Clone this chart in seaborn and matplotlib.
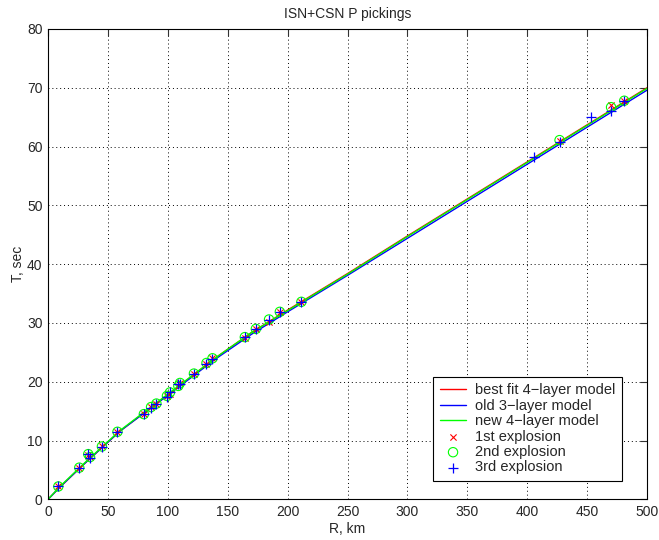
import matplotlib
matplotlib.use("Agg")
import matplotlib.pyplot as plt
import seaborn as sns
import pandas as pd

# ---- model travel-time curves ----
R_model = [0, 10, 30, 60, 100, 140, 170, 200, 250, 300, 350, 400, 450, 500]
T_best = [0, 2.1, 6.0, 11.6, 17.8, 24.1, 28.4, 32.2, 38.4, 44.8, 51.1, 57.4, 63.7, 70.0]
T_old = [0, 2.1, 6.0, 11.6, 17.7, 23.9, 28.1, 31.9, 38.1, 44.4, 50.7, 57.0, 63.3, 69.6]
T_new = [0, 2.2, 6.1, 11.7, 17.9, 24.1, 28.4, 32.1, 38.3, 44.7, 51.0, 57.3, 63.6, 69.9]

# ---- picks ----
R_exp1 = [8.6, 26.1, 33.6, 35.1, 45.0, 58.0, 80.0, 86.0, 90.5, 99.3, 101.8, 108.8, 110.2, 121.8, 132.3, 137.3,
          164.3, 173.5, 184.5, 193.5, 211.5, 427.0, 470.0, 481.0]
T_exp1 = [2.2, 5.4, 7.6, 7.2, 9.0, 11.5, 14.5, 15.7, 16.2, 17.6, 18.0, 19.3, 19.8, 21.4, 23.1, 24.0,
          27.5, 28.9, 30.2, 31.8, 33.5, 60.9, 67.0, 67.8]
R_exp2 = [8.6, 26.1, 33.6, 35.1, 45.0, 58.0, 80.0, 86.0, 90.5, 99.3, 101.8, 108.8, 110.2, 121.8, 132.3, 137.3,
          164.3, 173.5, 184.5, 193.5, 211.5, 427.0, 470.0, 481.0]
T_exp2 = [2.2, 5.4, 7.7, 7.2, 9.0, 11.5, 14.5, 15.7, 16.3, 17.6, 18.2, 19.3, 19.8, 21.4, 23.2, 24.0,
          27.6, 29.0, 30.6, 31.9, 33.6, 61.1, 66.7, 67.8]
R_exp3 = [8.6, 26.1, 33.6, 35.1, 45.0, 58.0, 80.0, 86.0, 90.5, 99.3, 101.8, 108.8, 110.2, 121.8, 132.3, 137.3,
          164.3, 173.5, 184.5, 193.5, 211.5, 405.5, 427.0, 453.0, 470.0, 481.0]
T_exp3 = [2.2, 5.3, 7.7, 7.1, 8.9, 11.4, 14.5, 15.6, 16.2, 17.5, 18.3, 19.6, 19.7, 21.3, 23.1, 23.9,
          27.6, 28.9, 30.5, 31.9, 33.5, 58.2, 60.8, 65.1, 66.0, 67.8]

sns.set_style("white")
plt.rcParams['font.family'] = ['Liberation Sans', 'DejaVu Sans']
plt.rcParams['font.size'] = 10

fig = plt.figure(figsize=(6.59, 5.40), dpi=100)
ax = fig.add_axes([48 / 659, 1 - 499.4 / 540, (647 - 48) / 659, (499.4 - 29) / 540])

df_models = pd.DataFrame({"R": R_model, "best": T_best, "old": T_old, "new": T_new})
sns.lineplot(data=df_models, x="R", y="best", ax=ax, color=(1, 0, 0), lw=1.0,
             label="best fit 4\u2212layer model", sort=False)
sns.lineplot(data=df_models, x="R", y="old", ax=ax, color=(0, 0, 1), lw=1.0,
             label="old 3\u2212layer model", sort=False)
sns.lineplot(data=df_models, x="R", y="new", ax=ax, color=(0, 1, 0), lw=1.0,
             label="new 4\u2212layer model", sort=False)

sns.scatterplot(x=R_exp1, y=T_exp1, ax=ax, marker="x", color=(1, 0, 0), s=20, linewidth=0.8,
                label="1st explosion", zorder=4)
sns.scatterplot(x=R_exp2, y=T_exp2, ax=ax, marker="o", facecolor="none", edgecolor=(0, 1, 0),
                s=45, linewidth=0.8, label="2nd explosion", zorder=5)
sns.scatterplot(x=R_exp3, y=T_exp3, ax=ax, marker="+", color=(0, 0, 1), s=55, linewidth=0.9,
                label="3rd explosion", zorder=6)

ax.set_xlim(0, 500)
ax.set_ylim(0, 80)
ax.set_xticks(range(0, 501, 50))
ax.set_yticks(range(0, 81, 10))
ax.grid(True, color="black", linestyle=(0, (1, 3)), linewidth=0.7)
ax.tick_params(direction="in", length=5, width=0.8, top=True, right=True,
               labelsize=10, pad=4, color="#333333")
for s in ax.spines.values():
    s.set_visible(True)
    s.set_color("black")
    s.set_linewidth(0.8)

ax.set_title("ISN+CSN P pickings", fontsize=10, pad=8)
ax.set_xlabel("R, km", fontsize=10, labelpad=2)
ax.set_ylabel("T, sec", fontsize=10, labelpad=1)

leg = ax.legend(loc="lower right", bbox_to_anchor=(0.958, 0.039), borderaxespad=0,
                frameon=True, fancybox=False, edgecolor="black", framealpha=1,
                handlelength=1.8, handletextpad=0.6, labelspacing=0.1,
                borderpad=0.45, fontsize=10.5, prop={"family": ["Liberation Sans"], "size": 10.5})
leg.get_frame().set_linewidth(0.8)

fig.savefig("out.png", dpi=100)
